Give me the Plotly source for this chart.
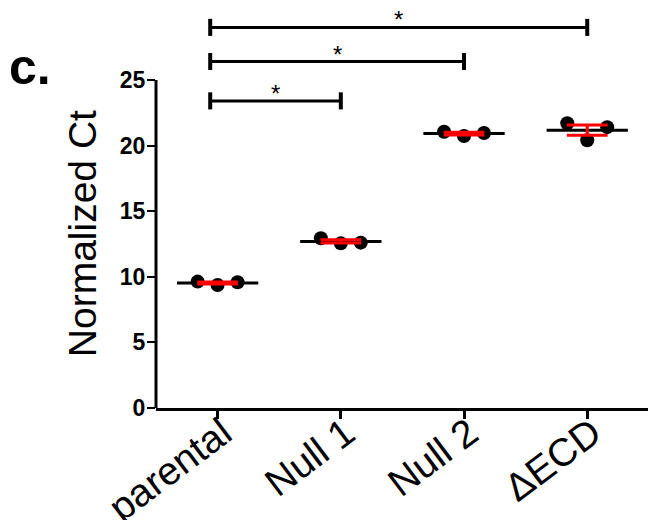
import numpy as np
import plotly.graph_objects as go

categories = ["parental", "Null 1", "Null 2", "ΔECD"]
parental = [9.63, 9.37, 9.58]
null1 = [12.93, 12.55, 12.6]
null2 = [21.05, 20.72, 20.95]
decd = [21.7, 20.4, 21.4]
series = [parental, null1, null2, decd]

yticks = [0, 5, 10, 15, 20, 25]
brackets = [(0, 1), (0, 2), (0, 3)]
bracket_y = [23.4, 26.4, 29.0]
bracket_text = ["*", "*", "*"]

offsets = [-0.162, 0.0, 0.162]

fig = go.Figure()

# mean lines (black)
mx, my = [], []
for i, vals in enumerate(series):
    m = float(np.mean(vals))
    mx += [i - 0.33, i + 0.33, None]
    my += [m, m, None]
fig.add_trace(go.Scatter(x=mx, y=my, mode="lines", line=dict(color="black", width=3),
                         hoverinfo="skip", showlegend=False))

# points
px, py = [], []
for i, vals in enumerate(series):
    for o, v in zip(offsets, vals):
        px.append(i + o)
        py.append(v)
fig.add_trace(go.Scatter(x=px, y=py, mode="markers",
                         marker=dict(color="black", size=14, line=dict(width=0)),
                         showlegend=False, cliponaxis=False))

# SEM error bars (red)
ex, ey = [], []
for i, vals in enumerate(series):
    m = float(np.mean(vals))
    sem = float(np.std(vals, ddof=1) / np.sqrt(len(vals)))
    for v in (m + sem, m - sem):
        ex += [i - 0.165, i + 0.165, None]
        ey += [v, v, None]
    ex += [i, i, None]
    ey += [m - sem, m + sem, None]
fig.add_trace(go.Scatter(x=ex, y=ey, mode="lines", line=dict(color="#ff0000", width=3),
                         hoverinfo="skip", showlegend=False))

# significance brackets
bx, by = [], []
for (a, b), yv in zip(brackets, bracket_y):
    bx += [a - 0.06, b, None]
    by += [yv, yv, None]
fig.add_trace(go.Scatter(x=bx, y=by, mode="lines", line=dict(color="black", width=3),
                         hoverinfo="skip", showlegend=False))
cx, cy = [], []
for (a, b), yv in zip(brackets, bracket_y):
    for xx in (a - 0.06, b):
        cx += [xx, xx, None]
        cy += [yv - 0.65, yv + 0.65, None]
fig.add_trace(go.Scatter(x=cx, y=cy, mode="lines", line=dict(color="black", width=4),
                         hoverinfo="skip", showlegend=False))

annotations = []
for (a, b), yv, t in zip(brackets, bracket_y, bracket_text):
    annotations.append(dict(x=(a - 0.06 + b) / 2, y=yv, xref="x", yref="y", text=t,
                            showarrow=False, yanchor="middle", yshift=8, height=18,
                            font=dict(size=24, color="black", family="Liberation Sans")))

annotations.append(dict(x=-0.2966, y=0.855, xref="paper", yref="paper", text="<b>c.</b>",
                        showarrow=False, xanchor="left", yanchor="middle", borderpad=0,
                        font=dict(size=50, color="black", family="Liberation Sans")))
annotations.append(dict(x=-0.148, y=0.436, xref="paper", yref="paper", text="Normalized Ct",
                        showarrow=False, textangle=-90, xanchor="center", yanchor="middle",
                        font=dict(size=39, color="black", family="Liberation Sans")))

fig.update_layout(
    width=648, height=512,
    margin=dict(l=148, r=1, t=1, b=112),
    plot_bgcolor="white", paper_bgcolor="white",
    annotations=annotations,
    shapes=[dict(type="line", xref="paper", yref="y", x0=0, x1=0, y0=0, y1=25,
                 line=dict(color="black", width=3))],
)
fig.update_xaxes(range=[-0.5, 3.55], tickmode="array", tickvals=list(range(len(categories))),
                 ticktext=categories, showline=True, linecolor="black", linewidth=3,
                 ticks="outside", ticklen=8, tickwidth=3, tickcolor="black",
                 tickangle=-37, showgrid=False, zeroline=False, automargin=False,
                 ticklabelstandoff=-24, ticklabelshift=5,
                 tickfont=dict(size=39, color="black", family="Liberation Sans"))
fig.update_yaxes(range=[0, 30.4], tickmode="array", tickvals=yticks,
                 ticktext=[f"<b>{v}</b>" for v in yticks], showline=False,
                 ticks="outside", ticklen=8, tickwidth=2, tickcolor="black",
                 showgrid=False, zeroline=False, automargin=False,
                 ticklabelstandoff=-3,
                 tickfont=dict(size=23, color="black", family="Liberation Sans"))

fig.write_html("out.html")
